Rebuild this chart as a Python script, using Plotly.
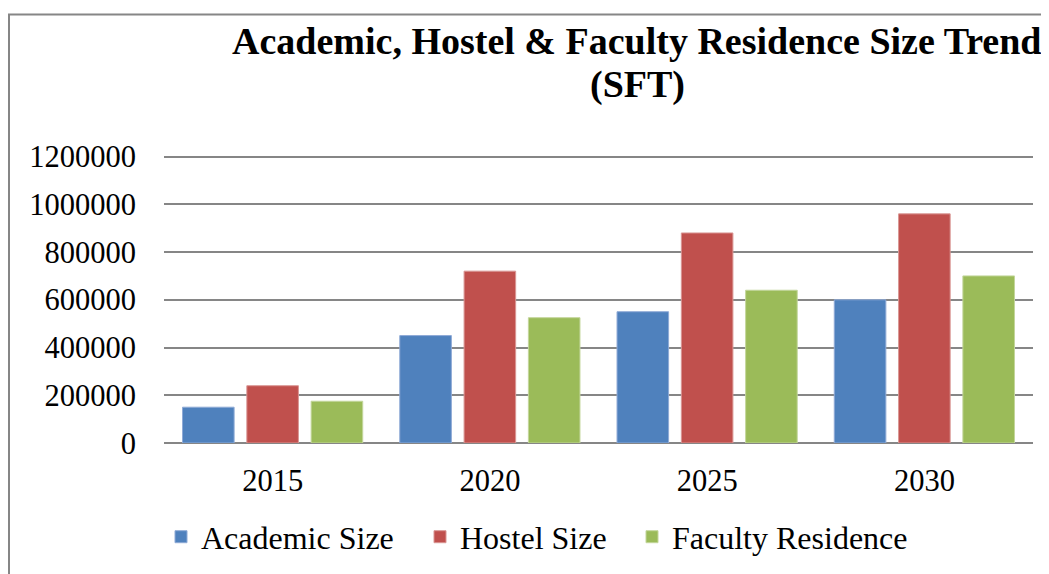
import plotly.graph_objects as go

years = ["2015", "2020", "2025", "2030"]
academic = [150000, 450000, 550000, 600000]
hostel = [240000, 720000, 880000, 960000]
faculty = [175000, 525000, 640000, 700000]
series_names = ["Academic Size", "Hostel Size", "Faculty Residence"]
colors = ["#4F81BD", "#C0504D", "#9BBB59"]
edge_colors = ["#8FAAD6", "#D99694", "#C3D69B"]
title_line1 = "Academic, Hostel & Faculty Residence Size Trend"
title_line2 = "(SFT)"
y_ticks = [0, 200000, 400000, 600000, 800000, 1000000, 1200000]
y_max = 1215000

# page body has an 8px margin: figure sits at (8, 8) in the 1049x574 window
OFF = 8
W, H = 1049 - OFF, 574 - OFF
# value 0 at screen y 443, value 1200000 at screen y 156.3
px_per_unit = (443 - 156.3) / 1200000
plot_top = 443 - px_per_unit * y_max
L, R, T, B = 164 - OFF, 1049 - 1033, plot_top - OFF, 574 - 443
pw, ph = W - L - R, H - T - B

FONT = "Liberation Serif"
TICK_SIZE = 30.5
LEGEND_SIZE = 32

def fx(sx):
    return (sx - OFF - L) / pw

def fy(sy):
    return (H - B - (sy - OFF)) / ph

legend_ids = ["legend", "legend2", "legend3"]
legend_left = [161, 420, 632]  # screen px of each legend box's left edge

fig = go.Figure()
for name, vals, c, ec, lid in zip(series_names, [academic, hostel, faculty], colors, edge_colors, legend_ids):
    fig.add_trace(go.Bar(x=years, y=vals, name=name, legend=lid,
                         marker=dict(color=c, line=dict(color=ec, width=1))))

legend_common = dict(orientation="h", yanchor="middle", y=fy(537), xanchor="left",
                     font=dict(family=FONT, size=LEGEND_SIZE, color="black"),
                     bgcolor="rgba(0,0,0,0)")

fig.update_layout(
    width=W, height=H,
    margin=dict(l=L, r=R, t=T, b=B, autoexpand=False),
    paper_bgcolor="white", plot_bgcolor="white",
    font=dict(family=FONT, size=TICK_SIZE, color="black"),
    barmode="group", bargap=0.112, bargroupgap=0.198,
    xaxis=dict(showgrid=False, showline=False, zeroline=False, ticks="",
               ticklabelstandoff=16, tickfont=dict(family=FONT, size=TICK_SIZE, color="black")),
    yaxis=dict(range=[0, y_max], tickvals=y_ticks, tickformat="d",
               showgrid=True, gridcolor="#868686", gridwidth=2,
               zeroline=True, zerolinecolor="#868686", zerolinewidth=2,
               showline=False, ticks="", ticklabelstandoff=27,
               tickfont=dict(family=FONT, size=TICK_SIZE, color="black")),
    legend=dict(x=fx(legend_left[0]), **legend_common),
    legend2=dict(x=fx(legend_left[1]), **legend_common),
    legend3=dict(x=fx(legend_left[2]), **legend_common),
    showlegend=True,
    annotations=[
        dict(text="<b>" + title_line1 + "</b>", xref="paper", yref="paper",
             x=fx(637), y=fy(41), xanchor="center", yanchor="middle", showarrow=False,
             font=dict(family=FONT, size=38, color="black")),
        dict(text="<b>" + title_line2 + "</b>", xref="paper", yref="paper",
             x=fx(637), y=fy(84), xanchor="center", yanchor="middle", showarrow=False,
             font=dict(family=FONT, size=38, color="black")),
    ],
    shapes=[dict(type="rect", xref="paper", yref="paper",
                 x0=fx(OFF + 1), x1=fx(1080), y0=fy(620), y1=fy(14),
                 line=dict(color="#868686", width=2), fillcolor="rgba(0,0,0,0)",
                 layer="below")],
)

fig.write_html("out.html")
